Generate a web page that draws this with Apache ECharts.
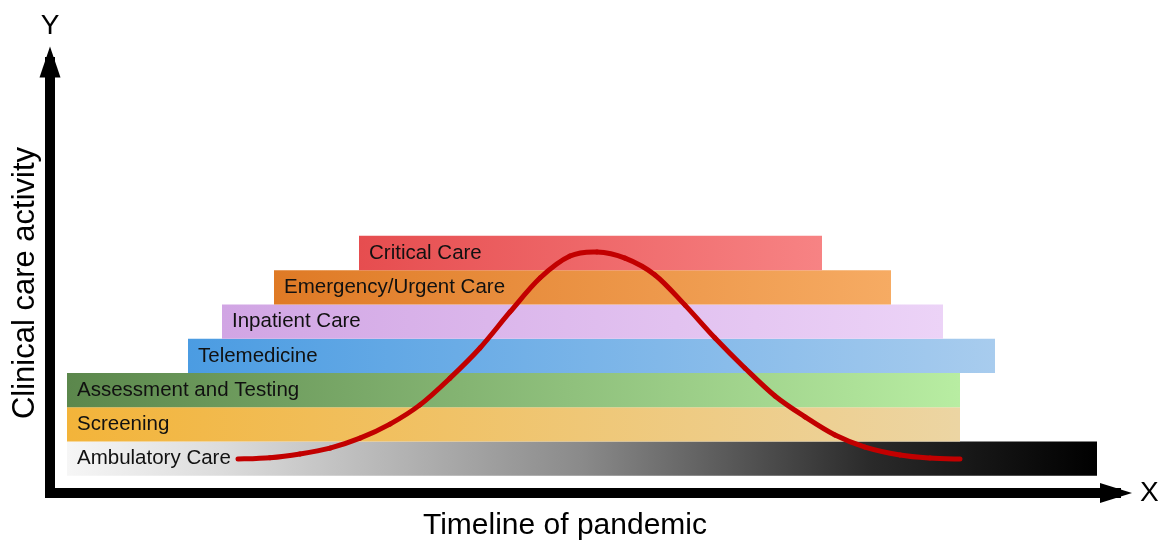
<!DOCTYPE html>
<html>
<head>
<meta charset="utf-8">
<script src="https://cdn.jsdelivr.net/npm/echarts@6/dist/echarts.min.js"></script>
<style>
  html, body { margin: 0; padding: 0; background: #fff; }
  #chart { width: 1169px; height: 547px; }
</style>
</head>
<body>
<div id="chart"></div>
<script>
// care levels, bottom to top; start / end on the timeline
const careNames = ['Ambulatory Care', 'Screening', 'Assessment and Testing', 'Telemedicine',
  'Inpatient Care', 'Emergency/Urgent Care', 'Critical Care']
const careStart = [1.7, 1.7, 1.7, 13.8, 17.2, 22.4, 30.9]
const careEnd = [104.7, 91.0, 91.0, 94.5, 89.3, 84.1, 77.2]

// the pandemic wave
const waveX = [18.8, 22.0, 25.0, 28.0, 31.0, 34.0, 37.0, 40.0, 43.0, 46.0, 49.0, 52.0, 54.7,
  57.5, 60.5, 63.5, 66.5, 69.5, 72.5, 75.5, 78.5, 81.5, 85.0, 88.0, 91.0]
const waveY = [0.99, 1.03, 1.14, 1.31, 1.60, 2.01, 2.57, 3.35, 4.23, 5.28, 6.27, 6.91, 7.03,
  6.85, 6.36, 5.48, 4.52, 3.64, 2.83, 2.22, 1.69, 1.34, 1.11, 1.02, 0.99]

// left -> right colour of each band
const bandColors = [
  [[0, '#f6f6f6'], [0.15, '#dcdcdc'], [0.5, '#8a8a8a'], [0.78, '#2a2a2a'], [1, '#000']],
  [[0, '#f3b43a'], [1, '#ecd5a3']],
  [[0, '#5b874c'], [1, '#b8eda2']],
  [[0, '#4b9ce2'], [1, '#a8ccee']],
  [[0, '#d1a5e4'], [1, '#ecd3f7']],
  [[0, '#df7a25'], [1, '#f6ab63']],
  [[0, '#e64d4f'], [1, '#f78384']]
]

const bandData = careNames.map((name, i) => [i, careStart[i], careEnd[i], name])
const waveData = waveX.map((x, i) => [x, waveY[i]])

const font = 'Liberation Sans, Arial, sans-serif'
const chart = echarts.init(document.getElementById('chart'))

chart.setOption({
  animation: false,
  backgroundColor: '#fff',
  textStyle: { fontFamily: font },
  grid: { left: 50, right: 53, top: 62, bottom: 54 },
  xAxis: {
    type: 'value',
    min: 0,
    max: 106.6,
    name: 'X',
    nameLocation: 'end',
    nameGap: 24,
    nameTextStyle: { fontSize: 28, color: '#000', verticalAlign: 'middle' },
    axisLine: {
      show: true,
      symbol: ['none', 'triangle'],
      symbolSize: [20, 32],
      lineStyle: { color: '#000', width: 10, cap: 'square' }
    },
    axisTick: { show: false },
    axisLabel: { show: false },
    splitLine: { show: false }
  },
  yAxis: {
    type: 'value',
    min: 0,
    max: 12.57,
    name: 'Y',
    nameLocation: 'end',
    nameGap: 22,
    nameTextStyle: { fontSize: 28, color: '#000', align: 'center' },
    axisLine: {
      show: true,
      symbol: ['none', 'triangle'],
      symbolSize: [21, 31],
      lineStyle: { color: '#000', width: 10, cap: 'square' }
    },
    axisTick: { show: false },
    axisLabel: { show: false },
    splitLine: { show: false }
  },
  graphic: [
    {
      type: 'text',
      x: 565,
      y: 526,
      style: {
        text: 'Timeline of pandemic', fontSize: 30, fill: '#000',
        align: 'center', verticalAlign: 'middle', fontFamily: font
      }
    },
    {
      type: 'text',
      x: 25,
      y: 283,
      rotation: Math.PI / 2,
      style: {
        text: 'Clinical care activity', fontSize: 31, fill: '#000',
        align: 'center', verticalAlign: 'middle', fontFamily: font
      }
    }
  ],
  series: [
    {
      type: 'custom',
      data: bandData,
      encode: { x: [1, 2], y: 0 },
      z: 2,
      renderItem: function (params, api) {
        const lvl = api.value(0)
        const a = api.coord([api.value(1), lvl + 1.5])
        const b = api.coord([api.value(2), lvl + 0.5])
        const i = params.dataIndex
        return {
          type: 'group',
          children: [
            {
              type: 'rect',
              shape: { x: a[0], y: a[1], width: b[0] - a[0], height: b[1] - a[1] },
              style: {
                fill: new echarts.graphic.LinearGradient(0, 0, 1, 0,
                  bandColors[i].map(s => ({ offset: s[0], color: s[1] })))
              }
            },
            {
              type: 'text',
              x: a[0] + 10,
              y: (a[1] + b[1]) / 2,
              style: {
                text: careNames[i],
                fontSize: 20.5,
                fill: '#111',
                verticalAlign: 'middle',
                fontFamily: font
              }
            }
          ]
        }
      }
    },
    {
      // wave drawn as catmull-rom segments between the read points
      type: 'custom',
      data: waveData,
      encode: { x: 0, y: 1 },
      z: 5,
      renderItem: function (params, api) {
        const i = params.dataIndex
        const n = waveData.length
        if (i >= n - 1) return
        const pt = k => api.coord(waveData[Math.max(0, Math.min(n - 1, k))])
        const p0 = pt(i - 1)
        const p1 = pt(i)
        const p2 = pt(i + 1)
        const p3 = pt(i + 2)
        return {
          type: 'bezierCurve',
          shape: {
            x1: p1[0], y1: p1[1],
            x2: p2[0], y2: p2[1],
            cpx1: p1[0] + (p2[0] - p0[0]) / 6,
            cpy1: p1[1] + (p2[1] - p0[1]) / 6,
            cpx2: p2[0] - (p3[0] - p1[0]) / 6,
            cpy2: p2[1] - (p3[1] - p1[1]) / 6
          },
          style: { stroke: '#c20000', lineWidth: 5, lineCap: 'round', fill: null }
        }
      }
    }
  ]
})
</script>
</body>
</html>
